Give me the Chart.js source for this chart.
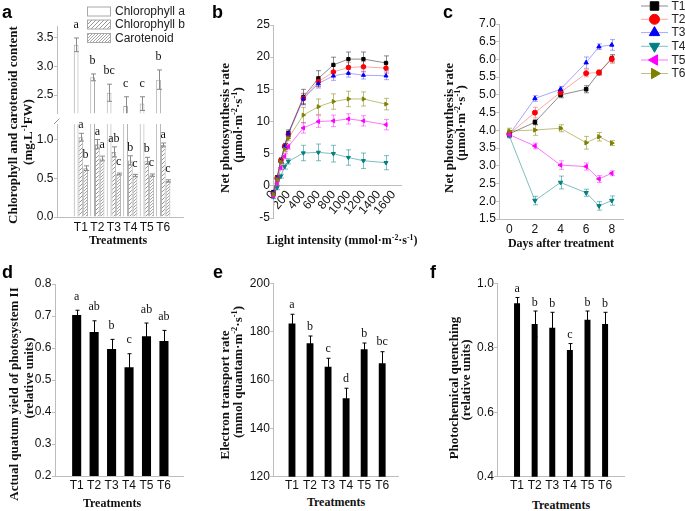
<!DOCTYPE html>
<html><head><meta charset="utf-8">
<script src="https://cdn.jsdelivr.net/npm/chart.js@4/dist/chart.umd.min.js"></script>
<style>
html,body{margin:0;padding:0;background:#fff;}
#fig{position:relative;width:685px;height:511px;overflow:hidden;background:#fff;}
#fig canvas{position:absolute;}
.pl{position:absolute;font:bold 18px "Liberation Sans",Arial,sans-serif;line-height:18px;color:#000;}
.xt{position:absolute;font:bold 12px "Liberation Serif","Times New Roman",serif;white-space:nowrap;transform:translate(-50%,-50%);color:#111;line-height:1;}
.yt{position:absolute;font:bold 13px "Liberation Serif","Times New Roman",serif;white-space:nowrap;transform:translate(-50%,-50%) rotate(-90deg);color:#111;line-height:13px;height:13px;}
sup{font-size:0.65em;vertical-align:0.5em;line-height:0;}
</style></head><body>
<div id="fig">
</div>
<script>
// ---------------- data ----------------
const treatments = ['T1','T2','T3','T4','T5','T6'];
const treatmentPos = [1,2,3,4,5,6];

// panel a
const chlA = [3.38, 2.81, 2.54, 2.31, 2.35, 2.77];
const chlAErr = [0.12, 0.06, 0.15, 0.16, 0.12, 0.17];
const chlALetters = ['a','b','bc','c','c','b'];
const chlB = [1.03, 0.94, 0.84, 0.73, 0.725, 0.93];
const chlBErr = [0.05, 0.06, 0.065, 0.06, 0.045, 0.025];
const chlBLetters = ['a','a','ab','b','b','a'];
const carot = [0.63, 0.755, 0.555, 0.535, 0.54, 0.465];
const carotErr = [0.03, 0.03, 0.012, 0.015, 0.015, 0.015];
const carotLetters = ['b','a','c','c','c','c'];
const aUpperTicks = [2.5, 3.0, 3.5];
const aLowerTicks = [0.0, 0.5, 1.0];

// panel b
const lightLevels = [0, 50, 100, 150, 200, 400, 600, 800, 1000, 1200, 1500];
const pnT1 = [-1.0, 1.3, 4.0, 6.2, 8.2, 13.8, 16.7, 18.8, 19.7, 19.7, 19.1];
const pnT2 = [-1.2, 1.2, 3.9, 6.1, 8.0, 13.6, 16.2, 17.7, 18.4, 18.5, 18.3];
const pnT3 = [-1.1, 1.2, 3.8, 6.1, 8.1, 13.5, 15.9, 17.1, 17.5, 17.2, 17.1];
const pnT4 = [-1.7, -0.3, 1.5, 3.0, 3.8, 5.1, 5.2, 5.0, 4.4, 3.9, 3.6];
const pnT5 = [-1.6, 0.4, 2.8, 4.6, 6.1, 9.0, 10.0, 10.1, 10.4, 10.1, 9.5];
const pnT6 = [-1.3, 1.0, 3.7, 5.7, 7.4, 11.0, 12.3, 13.1, 13.5, 13.5, 12.7];
const pnErrT1 = [0.3, 0.3, 0.4, 0.4, 0.5, 1.2, 1.2, 1.2, 1.1, 1.1, 1.1];
const pnErrT2 = [0.3, 0.3, 0.3, 0.4, 0.4, 0.8, 0.8, 0.9, 0.8, 0.8, 0.8];
const pnErrT3 = [0.3, 0.3, 0.3, 0.4, 0.4, 0.8, 0.7, 0.7, 0.6, 0.6, 0.6];
const pnErrT4 = [0.3, 0.3, 0.3, 0.4, 0.4, 1.2, 1.3, 1.3, 1.2, 1.2, 1.1];
const pnErrT5 = [0.3, 0.3, 0.3, 0.4, 0.4, 0.8, 0.9, 0.9, 0.8, 0.8, 0.8];
const pnErrT6 = [0.3, 0.3, 0.3, 0.4, 0.4, 1.2, 1.2, 1.2, 1.2, 1.1, 0.9];
const bYTicks = [-5, 0, 5, 10, 15, 20, 25];
const bXTicks = [0, 200, 400, 600, 800, 1000, 1200, 1400, 1600];

// panel c
const days = [0, 2, 4, 6, 7, 8];
const dayT1 = [3.90, 4.23, 5.00, 5.16, 5.63, 6.03];
const dayT2 = [3.90, 4.50, 5.07, 5.61, 5.63, 6.01];
const dayT3 = [3.88, 4.90, 5.16, 5.91, 6.36, 6.41];
const dayT4 = [3.85, 2.02, 2.53, 2.24, 1.87, 2.02];
const dayT5 = [3.88, 3.56, 3.02, 2.98, 2.63, 2.79];
const dayT6 = [3.98, 4.01, 4.06, 3.65, 3.82, 3.64];
const dayErrT1 = [0.08, 0.07, 0.08, 0.10, 0.06, 0.10];
const dayErrT2 = [0.08, 0.15, 0.10, 0.10, 0.08, 0.12];
const dayErrT3 = [0.06, 0.08, 0.08, 0.16, 0.08, 0.15];
const dayErrT4 = [0.06, 0.12, 0.18, 0.10, 0.12, 0.13];
const dayErrT5 = [0.06, 0.08, 0.12, 0.10, 0.10, 0.07];
const dayErrT6 = [0.08, 0.15, 0.10, 0.18, 0.12, 0.07];
const cYTicks = [1.5, 2.0, 2.5, 3.0, 3.5, 4.0, 4.5, 5.0, 5.5, 6.0, 6.5, 7.0];
const cXTicks = [0, 2, 4, 6, 8];

// panel d
const yieldPSII = [0.703, 0.650, 0.597, 0.540, 0.637, 0.622];
const yieldErr = [0.015, 0.035, 0.030, 0.042, 0.041, 0.033];
const yieldLetters = ['a','ab','b','c','ab','ab'];
const dYTicks = [0.2, 0.3, 0.4, 0.5, 0.6, 0.7, 0.8];

// panel e
const etr = [183.4, 175.2, 165.5, 152.4, 172.7, 166.9];
const etrErr = [3.8, 3.0, 3.5, 4.2, 2.6, 4.8];
const etrLetters = ['a','b','c','d','b','bc'];
const eYTicks = [120, 140, 160, 180, 200];

// panel f
const qP = [0.938, 0.874, 0.862, 0.793, 0.887, 0.874];
const qPErr = [0.018, 0.040, 0.048, 0.020, 0.027, 0.036];
const qPLetters = ['a','b','b','c','b','b'];
const fYTicks = [0.4, 0.6, 0.8, 1.0];

// ---------------- styles ----------------
const AX = '#bdbdbd';
const TXT = '#111';
const SANS = '"Liberation Sans", Arial, sans-serif';
const SERIF = '"Liberation Serif", "Times New Roman", serif';
Chart.defaults.font.family = SANS;
Chart.defaults.font.size = 12;
Chart.defaults.color = TXT;

const seriesNames = ['T1','T2','T3','T4','T5','T6'];
const seriesStyle = [
  {color:'#000000', line:'rgba(0,0,0,0.45)',      err:'rgba(0,0,0,0.45)',      style:'rect',     rot:0},
  {color:'#ff0000', line:'rgba(255,0,0,0.35)',    err:'rgba(255,0,0,0.35)',    style:'circle',   rot:0},
  {color:'#0000ff', line:'rgba(0,0,255,0.35)',    err:'rgba(0,0,255,0.35)',    style:'triangle', rot:0},
  {color:'#008080', line:'rgba(0,128,128,0.5)',   err:'rgba(0,128,128,0.5)',   style:'triangle', rot:180},
  {color:'#ff00ff', line:'rgba(255,0,255,0.55)',  err:'rgba(255,0,255,0.45)',  style:'triangle', rot:-90},
  {color:'#808000', line:'rgba(128,128,0,0.5)',   err:'rgba(128,128,0,0.5)',   style:'triangle', rot:90},
];

function hatch(spacing, color) {
  const c = document.createElement('canvas');
  c.width = spacing; c.height = spacing;
  const g = c.getContext('2d');
  g.fillStyle = '#fff'; g.fillRect(0,0,spacing,spacing);
  g.strokeStyle = color; g.lineWidth = 0.9;
  g.beginPath();
  g.moveTo(-1, spacing + 1); g.lineTo(spacing + 1, -1);
  g.moveTo(-1, 1); g.lineTo(1, -1);
  g.moveTo(spacing - 1, spacing + 1); g.lineTo(spacing + 1, spacing - 1);
  g.stroke();
  return g.createPattern(c, 'repeat');
}
const patB = hatch(4, '#8a8a8a');
const patC = hatch(3, '#9a9a9a');

// ---------------- plugins ----------------
function drawErr(chart, before) {
  const ctx = chart.ctx;
  chart.data.datasets.forEach((ds, di) => {
    if (!ds.errors || !!ds.errBefore !== before) return;
    const meta = chart.getDatasetMeta(di);
    const ys = chart.scales[meta.yAxisID];
    ctx.save();
    if (ds.errClip) {
      const a = chart.chartArea;
      ctx.beginPath(); ctx.rect(a.left - 20, a.top, a.right - a.left + 40, a.bottom - a.top); ctx.clip();
    }
    ctx.strokeStyle = ds.errColor || '#000';
    ctx.lineWidth = 1;
    const w = ds.capW || 2.5;
    meta.data.forEach((el, i) => {
      const v = ds.data[i].y, e = ds.errors[i];
      const x = Math.round(el.x) + 0.5;
      const yt = ys.getPixelForValue(v + e), yb = ys.getPixelForValue(v - e);
      ctx.beginPath();
      ctx.moveTo(x, yt); ctx.lineTo(x, yb);
      ctx.moveTo(x - w, yt); ctx.lineTo(x + w, yt);
      ctx.moveTo(x - w, yb); ctx.lineTo(x + w, yb);
      ctx.stroke();
    });
    ctx.restore();
  });
}
const errPlugin = {
  id: 'errbars',
  beforeDatasetsDraw(chart) { drawErr(chart, true); },
  afterDatasetsDraw(chart) { drawErr(chart, false); }
};
const letterPlugin = {
  id: 'sigletters',
  afterDraw(chart) {
    const ctx = chart.ctx;
    chart.data.datasets.forEach((ds, di) => {
      if (!ds.letters) return;
      const meta = chart.getDatasetMeta(di);
      const ys = chart.scales[meta.yAxisID];
      ctx.save();
      ctx.font = '12px ' + SERIF;
      ctx.fillStyle = TXT;
      ctx.textAlign = 'center';
      ctx.textBaseline = 'middle';
      meta.data.forEach((el, i) => {
        const v = ds.data[i].y + (ds.errors ? ds.errors[i] : 0);
        ctx.fillText(ds.letters[i], el.x, ys.getPixelForValue(v) - (ds.letterOffset || 8));
      });
      ctx.restore();
    });
  }
};
Chart.register(errPlugin, letterPlugin);

// ---------------- helpers ----------------
const fig = document.getElementById('fig');
function ticksFrom(vals) { return s => { s.ticks = vals.map(v => ({value: v})); }; }
function yScale(min, max, vals, dec) {
  return {
    type: 'linear', position: 'left', min, max,
    afterBuildTicks: ticksFrom(vals),
    border: {display: true, color: AX, width: 1},
    grid: {display: true, drawOnChartArea: false, drawTicks: true, tickLength: 3, color: AX},
    ticks: {padding: 0.5, color: TXT, font: {size: 12, family: SANS}, autoSkip: false,
            callback: v => dec == null ? String(v) : Number(v).toFixed(dec)}
  };
}
function xTreat(min, max, pad) {
  return {
    type: 'linear', position: 'bottom', min, max,
    afterBuildTicks: ticksFrom(treatmentPos),
    border: {display: true, color: AX, width: 1},
    grid: {display: false, drawTicks: false},
    ticks: {padding: pad, color: TXT, font: {size: 12, family: SANS}, autoSkip: false, maxRotation: 0, minRotation: 0,
            callback: v => treatments[Math.round(v) - 1]}
  };
}
function makeChart(rect, area, config, floatX) {
  const cv = document.createElement('canvas');
  cv.width = rect.w; cv.height = rect.h;
  Object.assign(cv.style, {left: rect.x + 'px', top: rect.y + 'px', width: rect.w + 'px', height: rect.h + 'px'});
  fig.appendChild(cv);
  const yW = area.l - rect.x;
  const xH = rect.y + rect.h - area.b;
  const o = config.options;
  o.responsive = false; o.animation = false; o.devicePixelRatio = 1; o.events = [];
  o.plugins = Object.assign({legend: {display: false}, tooltip: {enabled: false}}, o.plugins || {});
  o.layout = {autoPadding: false, padding: {left: 0, top: area.t - rect.y, right: rect.x + rect.w - area.r, bottom: floatX ? xH : 0}};
  o.scales.y.afterFit = s => { s.width = yW; };
  if (!floatX) o.scales.x.afterFit = s => { s.height = xH; };
  return new Chart(cv.getContext('2d'), config);
}
function pts(xs, ys) { return xs.map((x, i) => ({x, y: ys[i]})); }

// ---------------- panel a ----------------
const aBarOpts = {categoryPercentage: 0.86, barPercentage: 1, borderWidth: 1, borderColor: '#a8a8a8', clip: 0};
const legendA = {
  id: 'legendA',
  afterDraw(chart) {
    const ctx = chart.ctx;
    const items = [['Chlorophyll a', '#fff'], ['Chlorophyll b', patB], ['Carotenoid', patC]];
    const rows = [11.5, 24.5, 38];
    ctx.save();
    items.forEach((it, i) => {
      const y = rows[i];
      ctx.fillStyle = it[1];
      ctx.fillRect(87, y - 4.5, 23, 9);
      ctx.strokeStyle = '#a8a8a8'; ctx.lineWidth = 1;
      ctx.strokeRect(87.5, y - 4.5, 23, 9);
      ctx.fillStyle = '#222';
      ctx.font = '12px ' + SANS;
      ctx.textBaseline = 'middle'; ctx.textAlign = 'left';
      ctx.fillText(it[0], 115, y + 0.5);
    });
    ctx.restore();
  }
};
makeChart({x: 0, y: 0, w: 200, h: 121}, {l: 57, t: 26, r: 183, b: 121}, {
  type: 'bar',
  data: {datasets: [
    Object.assign({data: pts(treatmentPos, chlA), backgroundColor: '#fff', errors: chlAErr, errColor: '#8a8a8a', errClip: true,
                   letters: chlALetters, letterOffset: 13}, aBarOpts),
    Object.assign({data: pts(treatmentPos, chlB), backgroundColor: patB}, aBarOpts),
    Object.assign({data: pts(treatmentPos, carot), backgroundColor: patC}, aBarOpts)
  ]},
  options: {scales: {
    x: Object.assign(xTreat(0.19, 6.56, 3), {display: false}),
    y: yScale(2.18, 3.71, aUpperTicks, 1)
  }},
  plugins: [legendA]
});
const breakMark = {
  id: 'breakMark',
  afterDraw(chart) {
    const ctx = chart.ctx;
    ctx.save(); ctx.strokeStyle = '#999'; ctx.lineWidth = 1;
    ctx.beginPath(); ctx.moveTo(54, 14); ctx.lineTo(59.5, 8.5); ctx.stroke();
    ctx.restore();
  }
};
makeChart({x: 0, y: 110, w: 200, h: 126}, {l: 57, t: 124, r: 183, b: 217}, {
  type: 'bar',
  data: {datasets: [
    Object.assign({data: pts(treatmentPos, chlA), backgroundColor: '#fff'}, aBarOpts),
    Object.assign({data: pts(treatmentPos, chlB), backgroundColor: patB, errors: chlBErr, errColor: '#8a8a8a',
                   letters: chlBLetters, letterOffset: 8}, aBarOpts),
    Object.assign({data: pts(treatmentPos, carot), backgroundColor: patC, errors: carotErr, errColor: '#8a8a8a',
                   letters: carotLetters, letterOffset: 11}, aBarOpts)
  ]},
  options: {scales: {
    x: xTreat(0.19, 6.56, 3),
    y: yScale(0, 1.2, aLowerTicks, 1)
  }},
  plugins: [breakMark]
});

// ---------------- panel b ----------------
const pnSeries = [pnT1, pnT2, pnT3, pnT4, pnT5, pnT6];
const pnErrs = [pnErrT1, pnErrT2, pnErrT3, pnErrT4, pnErrT5, pnErrT6];
function lineDs(xs, ys, errs, i, r) {
  const st = seriesStyle[i];
  return {label: seriesNames[i], data: pts(xs, ys), borderColor: st.line, borderWidth: 1,
          pointStyle: st.style, rotation: st.rot, pointRadius: r, pointBackgroundColor: st.color,
          pointBorderColor: st.color, pointBorderWidth: 1, errors: errs, errColor: st.err, errBefore: true,
          capW: 2.5, clip: false, tension: 0};
}
makeChart({x: 200, y: 0, w: 210, h: 250}, {l: 273.3, t: 25, r: 401, b: 218}, {
  type: 'line',
  data: {datasets: [5, 4, 3, 2, 1, 0].map(i => lineDs(lightLevels, pnSeries[i], pnErrs[i], i, 2.3))},
  options: {scales: {
    x: {type: 'linear', position: {y: 0}, min: 0, max: 1700,
        afterBuildTicks: ticksFrom(bXTicks),
        border: {display: true, color: AX, width: 1},
        grid: {display: false, drawTicks: false},
        ticks: {padding: 2, color: TXT, font: {size: 12, family: SANS}, autoSkip: false, minRotation: 50, maxRotation: 50,
                callback: v => String(v)}},
    y: yScale(-5, 25, bYTicks, null)
  }}
}, true);

// ---------------- panel c ----------------
const daySeries = [dayT1, dayT2, dayT3, dayT4, dayT5, dayT6];
const dayErrs = [dayErrT1, dayErrT2, dayErrT3, dayErrT4, dayErrT5, dayErrT6];
const legendC = {
  id: 'legendC',
  afterDraw(chart) {
    const ctx = chart.ctx;
    const rows = [6, 19.3, 32.6, 46.3, 60, 73.5];
    ctx.save();
    seriesNames.forEach((nm, i) => {
      const st = seriesStyle[i];
      const y = rows[i];
      ctx.strokeStyle = st.line; ctx.lineWidth = 1;
      ctx.beginPath(); ctx.moveTo(641 - 420, y); ctx.lineTo(668 - 420, y); ctx.stroke();
      ctx.fillStyle = st.color; ctx.strokeStyle = st.color;
      Chart.helpers.drawPoint(ctx, {pointStyle: st.style, radius: st.style === 'circle' ? 5 : 6, rotation: st.rot, borderWidth: 1},
                              654.5 - 420, y);
      ctx.fillStyle = '#222';
      ctx.font = '12px ' + SANS; ctx.textBaseline = 'middle'; ctx.textAlign = 'left';
      ctx.fillText(nm, 671.5 - 420, y + 0.5);
    });
    ctx.restore();
  }
};
makeChart({x: 420, y: 0, w: 265, h: 240}, {l: 499.3, t: 24, r: 623.3, b: 219}, {
  type: 'line',
  data: {datasets: [5, 4, 3, 2, 1, 0].map(i => lineDs(days, daySeries[i], dayErrs[i], i, 2.5))},
  options: {scales: {
    x: {type: 'linear', position: 'bottom', min: -0.78, max: 8.9,
        afterBuildTicks: ticksFrom(cXTicks),
        border: {display: true, color: AX, width: 1},
        grid: {display: false, drawTicks: false},
        ticks: {padding: 3, color: TXT, font: {size: 12, family: SANS}, autoSkip: false, maxRotation: 0}},
    y: yScale(1.5, 7.0, cYTicks, 1)
  }},
  plugins: [legendC]
});

// ---------------- panels d, e, f ----------------
function blackBars(vals, errs, letters, barPct, offset) {
  return {data: pts(treatmentPos, vals), backgroundColor: '#000', borderWidth: 0, barPercentage: barPct,
          categoryPercentage: 1, errors: errs, errColor: '#000', capW: 2, letters, letterOffset: offset};
}
makeChart({x: 0, y: 260, w: 200, h: 235}, {l: 55, t: 284, r: 183, b: 476}, {
  type: 'bar',
  data: {datasets: [blackBars(yieldPSII, yieldErr, yieldLetters, 0.52, 13.5)]},
  options: {scales: {x: xTreat(0.37, 6.48, 2), y: yScale(0.2, 0.8, dYTicks, 1)}}
});
makeChart({x: 200, y: 260, w: 210, h: 235}, {l: 273.3, t: 283.3, r: 398, b: 476.7}, {
  type: 'bar',
  data: {datasets: [blackBars(etr, etrErr, etrLetters, 0.38, 9.5)]},
  options: {scales: {x: xTreat(0.54, 6.3, 2), y: yScale(120, 200, eYTicks, null)}}
});
makeChart({x: 420, y: 260, w: 265, h: 235}, {l: 497.3, t: 283.3, r: 624.3, b: 476.7}, {
  type: 'bar',
  data: {datasets: [blackBars(qP, qPErr, qPLetters, 0.34, 8.5)]},
  options: {scales: {x: xTreat(0.48, 6.49, 2), y: yScale(0.4, 1.0, fYTicks, 1)}}
});

// ---------------- text overlays ----------------
function addText(cls, html, x, y) {
  const d = document.createElement('div');
  d.className = cls; d.innerHTML = html;
  d.style.left = x + 'px'; d.style.top = y + 'px';
  fig.appendChild(d);
}
[['a', 2, 3], ['b', 212, 3], ['c', 443, 3], ['d', 2, 263], ['e', 213, 263], ['f', 430, 263]]
  .forEach(p => addText('pl', p[0], p[1], p[2]));
addText('xt', 'Treatments', 118, 240);
addText('xt', 'Light intensity (mmol·m<sup>-2</sup>·s<sup>-1</sup>)', 342, 240);
addText('xt', 'Days after treatment', 561, 243);
addText('xt', 'Treatments', 112, 503);
addText('xt', 'Treatments', 336, 502);
addText('xt', 'Treatments', 561, 505);
addText('yt', 'Chlorophyll and carotenoid content', 12, 125);
addText('yt', '(mg.L<sup>-1</sup>FW)', 27, 132);
addText('yt', 'Net photosynthesis rate', 224, 128);
addText('yt', '(μmol·m<sup>-2</sup>·s<sup>-1</sup>)', 237, 125);
addText('yt', 'Net photosynthesis rate', 447.5, 128);
addText('yt', '(μmol·m<sup>-2</sup>·s<sup>-1</sup>)', 460, 123);
addText('yt', 'Actual quatum yield of photosystem II', 12.5, 394);
addText('yt', '(relative units)', 28, 378);
addText('yt', 'Electron transport rate', 224, 395);
addText('yt', '(mmol quantam·m<sup>-2</sup>·s<sup>-1</sup>)', 237, 372);
addText('yt', 'Photochemical quenching', 453, 388);
addText('yt', '(relative units)', 465, 380);
</script>
</body></html>
